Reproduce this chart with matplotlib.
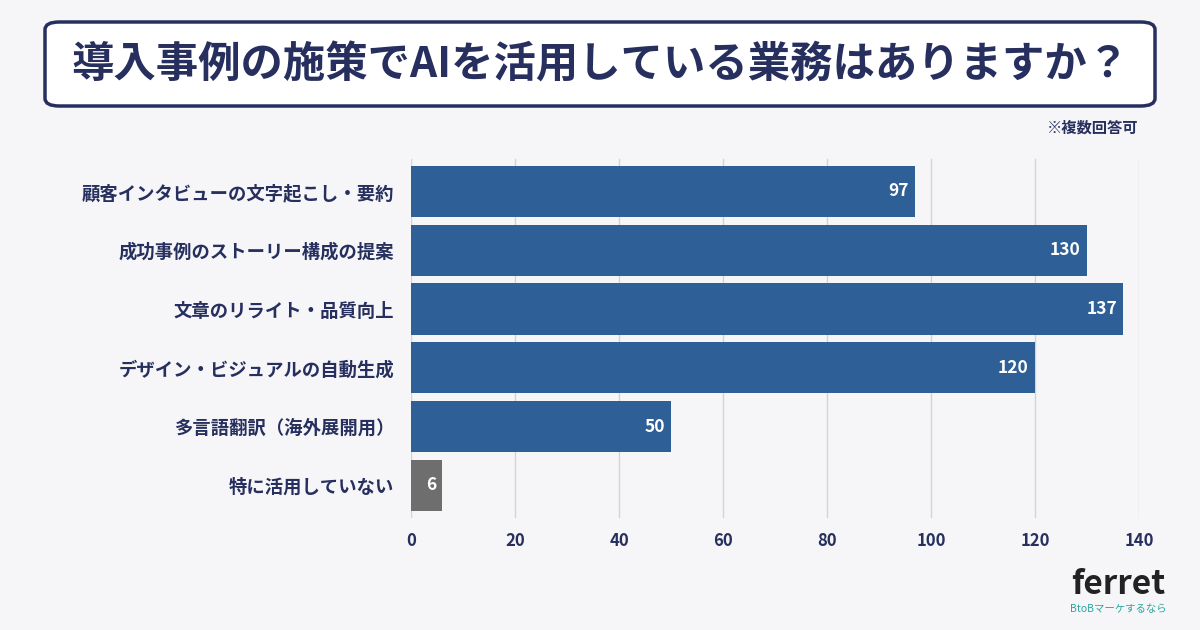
import matplotlib.pyplot as plt
from matplotlib.patches import FancyBboxPatch

plt.rcParams['font.family'] = 'Noto Sans CJK JP'

categories = ['顧客インタビューの文字起こし・要約', '成功事例のストーリー構成の提案', '文章のリライト・品質向上',
              'デザイン・ビジュアルの自動生成', '多言語翻訳（海外展開用）', '特に活用していない']
values = [97, 130, 137, 120, 50, 6]
colors = ['#2e5f96'] * 5 + ['#6e6e6e']
xticks = [0, 20, 40, 60, 80, 100, 120, 140]

navy = '#262f5e'
bg = '#f6f6f8'

fig = plt.figure(figsize=(12, 6.3), dpi=100, facecolor=bg)

# title box
box = FancyBboxPatch((45 / 1200, 1 - 106 / 630), 1110 / 1200, 84 / 630,
                     boxstyle='round,pad=0,rounding_size=0.012', transform=fig.transFigure,
                     facecolor='white', edgecolor=navy, linewidth=2.5)
fig.patches.append(box)
fig.text(0.5, 1 - 66 / 630, '導入事例の施策でAIを活用している業務はありますか？', ha='center', va='center',
         fontsize=30.5, fontweight='bold', color=navy)
fig.text(1138 / 1200, 1 - 128 / 630, '※複数回答可', ha='right', va='center', fontsize=11,
         fontweight='bold', color=navy)

ax = fig.add_axes([411 / 1200, 1 - 517.8 / 630, 728 / 1200, 358.8 / 630])
ax.set_facecolor(bg)
y = list(range(len(categories)))
ax.barh(y, values, height=0.87, color=colors, zorder=3)
for yi, v in zip(y, values):
    ax.text(v - 1.2, yi, str(v), ha='right', va='center', color='white', fontsize=12.5,
            fontweight='bold', zorder=4)
ax.set_xlim(0, 140)
ax.set_ylim(5.55, -0.55)
ax.set_yticks(y)
ax.set_yticklabels(categories, fontsize=13.2, fontweight='bold', color=navy)
ax.set_xticks(xticks)
ax.set_xticklabels([str(t) for t in xticks], fontsize=12, fontweight='bold', color=navy)
ax.tick_params(length=0, pad=10)
ax.tick_params(axis='y', pad=12)
ax.grid(axis='x', color='#d3d3df', linewidth=1, zorder=0)
for s in ax.spines.values():
    s.set_visible(False)

fig.text(1118 / 1200, 1 - 585 / 630, 'ferret', ha='center', va='center', fontsize=24,
         fontweight='bold', color='#222222')
fig.text(1118 / 1200, 1 - 609 / 630, 'BtoBマーケするなら', ha='center', va='center', fontsize=7.5,
         color='#2aa7a0')

fig.savefig('out.png', dpi=100, facecolor=bg)
